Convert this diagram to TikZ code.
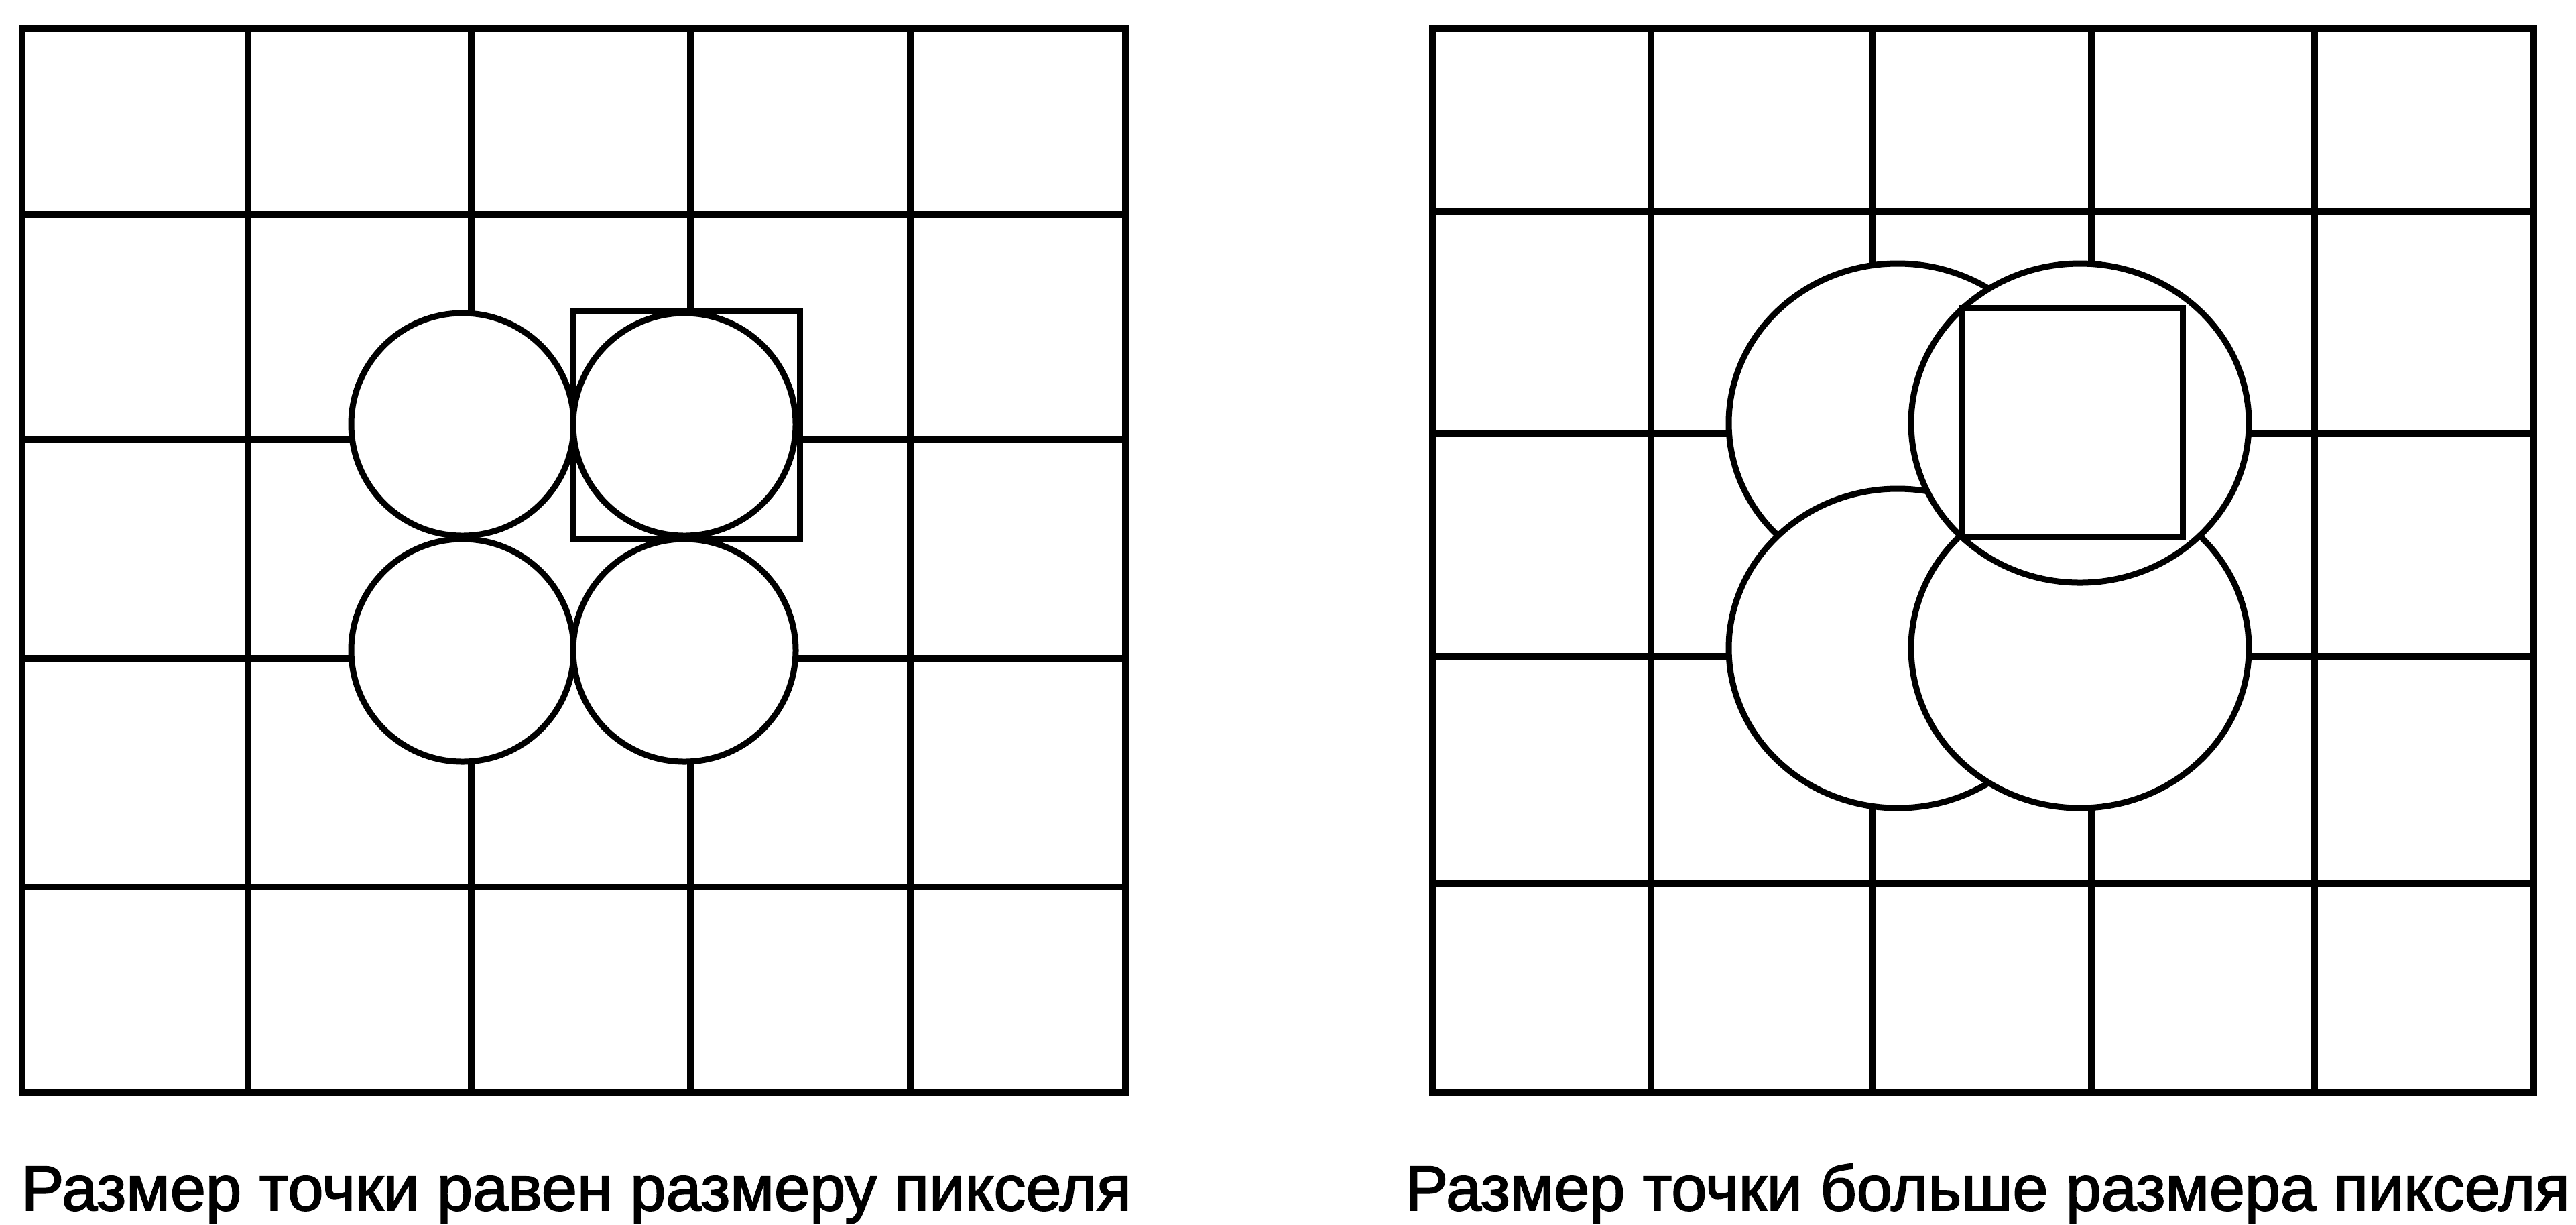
\documentclass[tikz,border=0pt]{standalone}
\usepackage{fontspec}
\setmainfont{Liberation Sans}
\newfontfamily\capfont{Liberation Sans}[FakeBold=2]
\newcommand\fitcaption[2]{\resizebox{#1}{\height}{#2}}
\begin{document}
\begin{tikzpicture}[x=1cm,y=1cm,
    gridline/.style={line width=1mm},
    dot/.style={draw,fill=white,line width=0.9mm},
    pixbox/.style={line width=0.9mm},
    caption/.style={anchor=base west,inner sep=0pt,font=\capfont\fontsize{27}{32}\selectfont}]
  \useasboundingbox (0,0) rectangle (38.43,-18.26);

  % dot size equals pixel size
  \draw[gridline] (0.33,-0.43) rectangle (16.79,-16.29);
  \foreach \x in {3.70,7.03,10.30,13.58}
    \draw[gridline] (\x,-0.43) -- (\x,-16.29);
  \foreach \y in {3.20,6.55,9.82,13.23}
    \draw[gridline] (0.33,-\y) -- (16.79,-\y);
  \foreach \x/\y in {6.90/6.33,6.90/9.70,10.21/9.70,10.21/6.33}
    \draw[dot] (\x,-\y) circle (1.66);
  \draw[pixbox] (8.55,-4.64) rectangle (11.93,-8.03);
  \node[caption] (capeq) at (0.31,-18.05)
    {\fitcaption{16.56cm}{Размер точки равен размеру пикселя}};

  % dot size bigger than pixel size
  \draw[gridline] (21.37,-0.43) rectangle (37.80,-16.29);
  \foreach \x in {24.63,27.94,31.20,34.53}
    \draw[gridline] (\x,-0.43) -- (\x,-16.29);
  \foreach \y in {3.15,6.47,9.79,13.18}
    \draw[gridline] (21.37,-\y) -- (37.80,-\y);
  \foreach \x/\y in {28.31/6.31,28.31/9.67,31.03/9.67,31.03/6.31}
    \draw[dot] (\x,-\y) ellipse (2.52 and 2.38);
  \draw[pixbox] (29.27,-4.59) rectangle (32.56,-8.00);
  \node[caption] (capbig) at (20.96,-18.05)
    {\fitcaption{17.37cm}{Размер точки больше размера пикселя}};
\end{tikzpicture}
\end{document}
